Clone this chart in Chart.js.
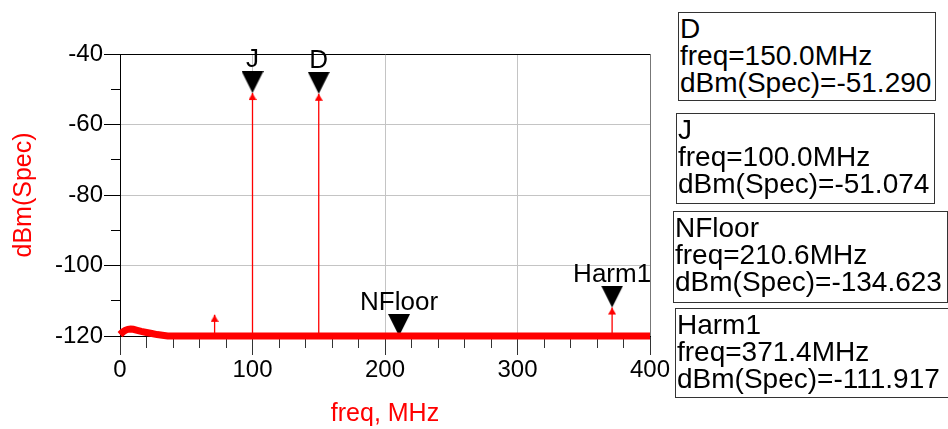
<!DOCTYPE html>
<html>
<head>
<meta charset="utf-8">
<script src="https://cdn.jsdelivr.net/npm/chart.js@4.4.1/dist/chart.umd.min.js"></script>
<style>
  body { margin: 0; background: #fff; }
  #wrap { position: relative; width: 948px; height: 429px; overflow: hidden; }
  #spec { position: absolute; left: 0; top: 0; }
  .mkbox {
    position: absolute;
    box-sizing: border-box;
    border: 1px solid #333;
    background: #fff;
    font-family: "Liberation Sans", Arial, sans-serif;
    font-size: 28px;
    line-height: 27px;
    padding: 2px 0 0 1px;
    white-space: nowrap;
    color: #000;
  }
</style>
</head>
<body>
<div id="wrap">
  <canvas id="spec" width="948" height="429"></canvas>
  <div class="mkbox" style="left:678px; top:12px; width:258px; height:89px;">D<br>freq=150.0MHz<br>dBm(Spec)=-51.290</div>
  <div class="mkbox" style="left:676px; top:113px; width:259px; height:91px;">J<br>freq=100.0MHz<br>dBm(Spec)=-51.074</div>
  <div class="mkbox" style="left:673px; top:211px; width:275px; height:92px;">NFloor<br>freq=210.6MHz<br>dBm(Spec)=-134.623</div>
  <div class="mkbox" style="left:675px; top:308px; width:280px; height:90px;">Harm1<br>freq=371.4MHz<br>dBm(Spec)=-111.917</div>
</div>
<script>
// noise floor (shown clipped at the bottom of the axis)
let floorFreq = [0, 2, 4, 6, 8, 10, 13, 16, 20, 24, 28, 32, 36, 400];
let floorLevel = [-119.6, -118.9, -118.4, -118.1, -118.0, -118.1, -118.4, -118.7, -119.0, -119.3, -119.6, -119.8, -120, -120];

// spectral lines, MHz / dBm
let spikeFreq = [71.4, 100, 150, 371.4];
let spikeLevel = [-114.0, -51.074, -51.29, -111.917];

// markers
let markerNames = ['D', 'J', 'NFloor', 'Harm1'];
let markerFreq = [150.0, 100.0, 210.6, 371.4];
let markerLevel = [-51.29, -51.074, -134.623, -111.917];

let xTicks = [0, 100, 200, 300, 400];
let yTicks = [-120, -100, -80, -60, -40];

let yMin = -120;
let yMax = -40;
let textFont = { family: '"Liberation Sans", Arial, sans-serif', size: 24 };
let titleFont = { family: '"Liberation Sans", Arial, sans-serif', size: 25 };

// red arrow head, apex at the centre of the image
let arrowImg = document.createElement('canvas');
arrowImg.width = 8;
arrowImg.height = 16;
let actx = arrowImg.getContext('2d');
actx.fillStyle = '#ff0000';
actx.beginPath();
actx.moveTo(4, 8);
actx.lineTo(8, 15);
actx.lineTo(0, 15);
actx.closePath();
actx.fill();

// black marker triangle, apex at the centre of the image
let markImg = document.createElement('canvas');
markImg.width = 22;
markImg.height = 44;
let mctx = markImg.getContext('2d');
mctx.fillStyle = '#000';
mctx.beginPath();
mctx.moveTo(0, 0);
mctx.lineTo(22, 0);
mctx.lineTo(11, 22);
mctx.closePath();
mctx.fill();

let floorData = floorFreq.map((f, i) => ({ x: f, y: Math.max(floorLevel[i], yMin) }));
let spikeData = spikeFreq.flatMap((f, i) => [
  { x: f, y: yMin },
  { x: f, y: spikeLevel[i] },
  { x: f, y: null }
]);
let markerData = markerFreq.map((f, i) => ({ x: f, y: Math.max(markerLevel[i], yMin) }));

let markerLabels = {
  id: 'markerLabels',
  afterDatasetsDraw(chart) {
    let ctx = chart.ctx;
    let meta = chart.getDatasetMeta(2);
    ctx.save();
    ctx.fillStyle = '#000';
    ctx.font = '26px "Liberation Sans", Arial, sans-serif';
    ctx.textAlign = 'center';
    ctx.textBaseline = 'alphabetic';
    meta.data.forEach((pt, i) => {
      ctx.fillText(markerNames[i], pt.x, pt.y - 26);
    });
    ctx.restore();
  }
};

let ctx = document.getElementById('spec').getContext('2d');

new Chart(ctx, {
  type: 'line',
  data: {
    datasets: [{
      label: 'dBm(Spec)',
      data: floorData,
      borderColor: '#ff0000',
      borderWidth: 7,
      borderCapStyle: 'butt',
      pointRadius: 0,
      tension: 0,
      clip: 10
    }, {
      label: 'lines',
      data: spikeData,
      borderColor: '#ff0000',
      borderWidth: 1.3,
      pointStyle: arrowImg,
      pointRadius: c => (c.dataIndex % 3 === 1 ? 4 : 0),
      spanGaps: false,
      tension: 0
    }, {
      label: 'markers',
      data: markerData,
      showLine: false,
      pointStyle: markImg,
      pointRadius: 11,
      clip: false
    }]
  },
  options: {
    responsive: false,
    animation: false,
    events: [],
    layout: {
      padding: { top: 54, right: 298, bottom: 0, left: 0 }
    },
    plugins: {
      legend: { display: false },
      tooltip: { enabled: false }
    },
    scales: {
      x: {
        type: 'linear',
        min: 0,
        max: 400,
        afterFit(scale) { scale.height = 93; },
        border: { display: true, color: '#000', width: 1 },
        grid: {
          color: c => {
            let v = c.tick.value;
            if (v === 400) return '#777';
            if (v !== 0 && xTicks.includes(v)) return '#c4c4c4';
            return 'rgba(0,0,0,0)';
          },
          tickColor: '#333',
          tickLength: 19,
          tickBorderDash: c => (xTicks.includes(c.tick.value) ? [] : [11, 100]),
          tickBorderDashOffset: 0
        },
        ticks: {
          stepSize: 20,
          autoSkip: false,
          maxRotation: 0,
          padding: 1,
          color: '#000',
          font: textFont,
          callback: v => (xTicks.includes(v) ? v : '')
        },
        title: {
          display: true,
          text: 'freq, MHz',
          color: '#ff0000',
          font: titleFont,
          padding: { top: 0, bottom: 0 }
        }
      },
      y: {
        min: yMin,
        max: yMax,
        afterFit(scale) { scale.width = 120; },
        border: { display: true, color: '#000', width: 1 },
        grid: {
          color: c => {
            let v = c.tick.value;
            if (v === yMax) return '#000';
            if (v !== yMin && yTicks.includes(v)) return '#c4c4c4';
            return 'rgba(0,0,0,0)';
          },
          tickColor: '#000',
          tickLength: 16,
          tickBorderDash: c => (yTicks.includes(c.tick.value) ? [] : [9, 100]),
          tickBorderDashOffset: c => (yTicks.includes(c.tick.value) ? 0 : 102)
        },
        ticks: {
          stepSize: 10,
          autoSkip: false,
          padding: 1,
          color: '#000',
          font: textFont,
          callback: v => (yTicks.includes(v) ? v : '')
        },
        title: {
          display: true,
          text: 'dBm(Spec)',
          color: '#ff0000',
          font: titleFont,
          padding: { top: 9, bottom: 0 }
        }
      }
    }
  },
  plugins: [markerLabels]
});
</script>
</body>
</html>
